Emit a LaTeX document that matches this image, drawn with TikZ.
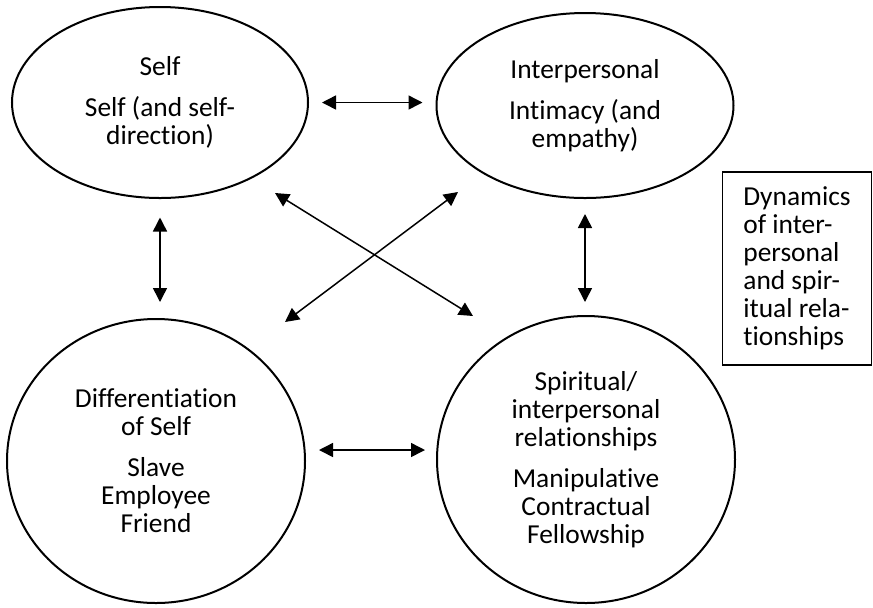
\documentclass[tikz,border=0pt]{standalone}
\usepackage{fontspec}
\setmainfont{Carlito}[Ligatures=NoCommon]
\usetikzlibrary{arrows.meta,shapes.geometric}

\begin{document}
\begin{tikzpicture}[
    x=0.5pt, y=-0.5pt,
    bubble/.style={draw, ellipse, line width=1pt, inner sep=0pt, align=center,
      font=\fontsize{13.7}{14}\selectfont},
    note/.style={draw, rectangle, line width=0.8pt, minimum width=74.5pt, minimum height=96.5pt,
      inner sep=0pt, align=left, font=\fontsize{13.7}{14}\selectfont},
    arrow/.style={{Triangle[length=7pt,width=7pt]}-{Triangle[length=7pt,width=7pt]}, line width=0.75pt}
  ]
    \useasboundingbox (0,0) rectangle (873,607);
    % the four parts
    \node[bubble, minimum width=148pt, minimum height=95.5pt] (self) at (160,102.5)
      {Self\\[6.5pt]Self (and self-\\direction)};
    \node[bubble, minimum width=148.5pt, minimum height=92.5pt] (inter) at (585,105.5)
      {Interpersonal\\[6.5pt]Intimacy (and\\empathy)};
    \node[bubble, minimum width=149pt, minimum height=142pt] (diff) at (156,461)
      {Differentiation\\of Self\\[6.5pt]Slave\\Employee\\Friend};
    \node[bubble, minimum width=149pt, minimum height=143.5pt] (spirit) at (586,459.5)
      {Spiritual/\\interpersonal\\relationships\\[6.5pt]Manipulative\\Contractual\\Fellowship};
    \node[note] (dynbox) at (797,268.5)
      {Dynamics\\of inter-\\personal\\and spir-\\itual rela-\\tionships};
    % links
    \draw[arrow, shorten <=6.5pt, shorten >=6.5pt] (self.east) -- (self.east -| inter.west);
    \draw[arrow, shorten <=9.25pt, shorten >=8pt] (self.south) -- (self.south |- diff.north);
    \draw[arrow, shorten <=7.5pt, shorten >=6.5pt] (inter.south) -- (inter.south |- spirit.north);
    \draw[arrow, shorten <=6.5pt, shorten >=5.5pt, transform canvas={yshift=5.5pt}]
      (diff.east) -- (diff.east -| spirit.west);
    % crossing links
    \coordinate (selfX) at (275,193);
    \coordinate (spiritX) at (473,316);
    \coordinate (interX) at (458,192);
    \coordinate (diffX) at (285,322);
    \draw[arrow] (selfX) -- (spiritX);
    \draw[arrow] (interX) -- (diffX);
  \end{tikzpicture}
\end{document}
